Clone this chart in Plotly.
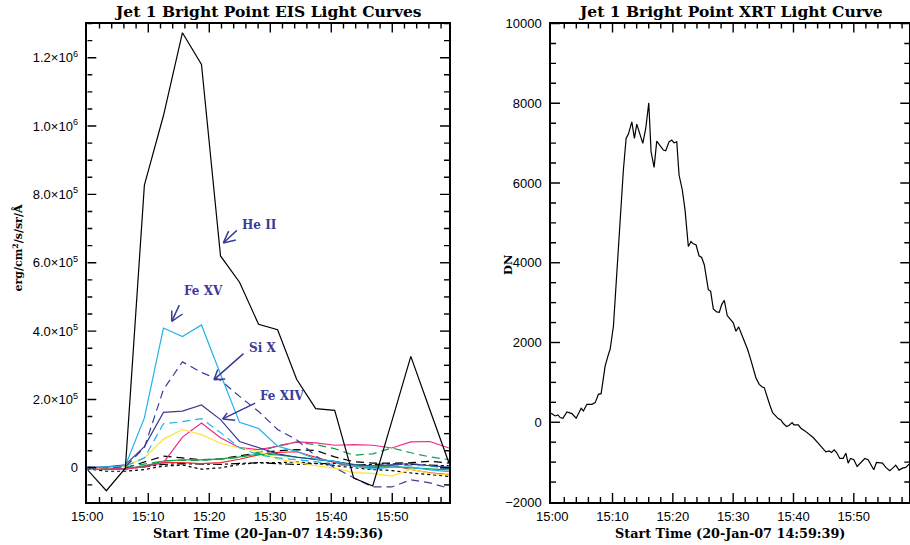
import plotly.graph_objects as go

# ---------------- data ----------------
# EIS sample times, minutes after 15:00 tick origin
eis_time = [0.0, 3.12, 6.24, 9.36, 12.48, 15.6, 18.72, 21.84, 24.96, 28.08,
            31.2, 34.32, 37.44, 40.56, 43.68, 46.8, 49.92, 53.04, 56.16, 59.28]

he_ii = [-5e3, -6.7e4, -1e3, 8.27e5, 1.03e6, 1.273e6, 1.18e6, 6.2e5, 5.43e5, 4.2e5,
         4.04e5, 2.59e5, 1.73e5, 1.68e5, -3.0e4, -5.3e4, 1.36e5, 3.26e5, 1.7e5, 1.5e4]
fe_xv = [-1e3, 3e3, 6e3, 1.46e5, 4.09e5, 3.84e5, 4.18e5, 2.74e5, 1.33e5, 1.15e5,
         6.3e4, 4.8e4, 2.6e4, 1.9e4, 6e3, -4e3, 2e3, 2e3, -6e3, -1.1e4]
si_x = [2e3, 0, 3e3, 5.9e4, 2.29e5, 3.1e5, 2.79e5, 2.56e5, 2.09e5, 1.65e5,
        1.12e5, 8.2e4, 3.5e4, 0, -2.9e4, -5.6e4, -5.6e4, -3.5e4, -4.4e4, -6e4]
fe_xiv = [2e3, 3e3, 9e3, 6.2e4, 1.62e5, 1.66e5, 1.84e5, 1.41e5, 7.7e4, 5.8e4,
          4.1e4, 3.1e4, 2.4e4, 1.9e4, 9e3, 6e3, 9e3, 1.2e4, 6e3, 2e3]
cyan_dash = [0, 2e3, 5e3, 2.9e4, 1.29e5, 1.35e5, 1.44e5, 1.03e5, 5.9e4, 3.8e4,
             2.9e4, 2.4e4, 1.8e4, 9e3, 6e3, 3e3, 9e3, 6e3, 6e3, -3e3]
yellow = [0, 0, 4e3, 2.9e4, 8.4e4, 1.12e5, 9.7e4, 7.2e4, 5.8e4, 4.8e4,
          2.6e4, 1.6e4, 6e3, -1e3, -1.4e4, -1.6e4, -2.4e4, -4e3, -1.6e4, -2.1e4]
magenta = [0, -3e3, -3e3, 3e3, 1.5e4, 9e4, 1.31e5, 8.8e4, 5.9e4, 5.3e4,
           6.3e4, 7.6e4, 7.3e4, 6.6e4, 6.8e4, 6.6e4, 5.8e4, 7.6e4, 7.7e4, 5.8e4]
green_dash = [0, -2e3, 2e3, 1e4, 2e4, 2.2e4, 2.2e4, 2.5e4, 3e4, 4.5e4,
              6.5e4, 7.5e4, 6.8e4, 5.6e4, 3.7e4, 4.1e4, 5.8e4, 4.4e4, 3.2e4, 2.4e4]
green_solid = [-3e3, -5e3, -3e3, 5e3, 2e4, 2.3e4, 2.3e4, 2.6e4, 3.2e4, 4e4,
               3.8e4, 3.2e4, 2.5e4, 1.8e4, 1e4, 3e3, 3e3, 0, -4e3, -6e3]
red = [2e3, -3e3, -3e3, 5e3, 1.5e4, 1.5e4, 1.2e4, 1.5e4, 2.5e4, 3.8e4,
       4.5e4, 4.7e4, 3e4, 1.5e4, 5e3, 0, 8e3, -5e3, -1.5e4, -2e4]
black_dash = [0, -3e3, 0, 1.8e4, 3.4e4, 2.9e4, 2.4e4, 2.6e4, 3.5e4, 4.4e4,
              5e4, 5.3e4, 5.1e4, 3.2e4, 1.8e4, 1.4e4, 1.4e4, 1.5e4, 1.9e4, 1.4e4]
black_dot = [-3e3, -1e4, -1e4, -5e3, 5e3, 8e3, -4e3, 0, 1e4, 1.5e4,
             1.5e4, 1.7e4, 1.3e4, 6e3, 0, -5e3, -8e3, -1.5e4, -2e4, -2.5e4]
black_dashdot = [0, -2e3, -3e3, 3e3, 1e4, 1.2e4, 1e4, 1e4, 1.3e4, 1.5e4,
                 1.2e4, 1e4, 1.2e4, 1.3e4, 8e3, 1e4, 1.2e4, 1e4, 8e3, 6e3]

# XRT light curve, minutes after 15:00 tick origin
xrt_time = [-0.17, 0.50, 0.94, 1.32, 1.77, 2.43, 3.26, 3.97, 4.80, 5.18,
            5.75, 6.57, 7.12, 7.67, 8.11, 8.77, 9.32, 9.60, 10.15, 10.71,
            11.26, 11.80, 12.25, 12.63, 13.20, 13.63, 14.02, 14.57, 15.02, 15.51,
            16.01, 16.39, 16.89, 17.33, 17.88, 18.43, 18.82, 19.37, 19.82, 20.20,
            20.65, 21.03, 21.57, 22.02, 22.57, 23.01, 23.39, 23.84, 24.34, 24.78,
            25.21, 25.61, 25.88, 26.27, 26.71, 27.27, 27.70, 28.10, 28.53, 29.02,
            29.47, 30.02, 30.46, 30.91, 31.41, 31.95, 32.40, 32.90, 33.33, 33.77,
            34.32, 34.82, 35.15, 35.64, 36.09, 36.54, 37.09, 37.47, 37.91, 38.29,
            38.86, 39.29, 39.78, 40.07, 40.78, 41.23, 41.89, 42.43, 43.26, 44.09,
            44.65, 45.36, 45.91, 46.31, 46.74, 47.14, 47.68, 48.23, 48.68, 49.06,
            49.45, 50.00, 50.55, 51.11, 51.82, 52.37, 52.93, 53.31, 53.76, 54.30,
            54.75, 55.30, 55.96, 56.41, 56.95, 57.50, 58.06, 58.61, 59.16]
xrt_dn = [225, 158, 183, 117, 100, 258, 217, 100, 350, 283,
          450, 450, 492, 700, 717, 1408, 1700, 1825, 2408, 3700,
          5242, 6325, 7117, 7225, 7533, 7117, 7475, 7200, 6992, 7367,
          8008, 6783, 6392, 7050, 6950, 6825, 6808, 7033, 7075, 7008,
          7033, 6200, 5825, 5325, 4408, 4533, 4475, 4450, 4175, 4133,
          3950, 3492, 3325, 3283, 2842, 2767, 2758, 2950, 3058, 2675,
          2592, 2492, 2283, 2392, 2200, 1992, 1825, 1575, 1367, 1117,
          950, 883, 867, 617, 425, 242, 142, 92, 58, -25,
          -108, -75, -8, -67, -67, -150, -217, -275, -383, -525,
          -633, -742, -717, -758, -692, -758, -908, -908, -775, -1025,
          -908, -942, -1108, -1025, -908, -942, -1092, -1192, -1008, -1025,
          -1025, -1133, -1217, -1158, -1075, -1200, -1150, -1133, -1050]

time_ticks = [0, 10, 20, 30, 40, 50]
time_labels = ["15:00", "15:10", "15:20", "15:30", "15:40", "15:50"]
time_minor = [m for m in range(2, 60, 2) if m % 10]
eis_yticks = [0, 2e5, 4e5, 6e5, 8e5, 1.0e6, 1.2e6]
eis_ylabels = ["0", "2.0×10<sup>5</sup>", "4.0×10<sup>5</sup>", "6.0×10<sup>5</sup>",
               "8.0×10<sup>5</sup>", "1.0×10<sup>6</sup>", "1.2×10<sup>6</sup>"]
eis_yminor = [k * 5e4 for k in range(-1, 27) if k % 4]
xrt_yticks = [-2000, 0, 2000, 4000, 6000, 8000, 10000]
xrt_ylabels = ["−2000", "0", "2000", "4000", "6000", "8000", "10000"]
xrt_yminor = [k * 500 for k in range(-3, 20) if k % 4]

# ---------------- styles ----------------
NAVY = "#3b3b99"
CYAN = "#1fb2e8"
series = [
    (black_dot, "black", "dot"),
    (black_dashdot, "black", "dashdot"),
    (black_dash, "black", "8px,5px"),
    (red, "#ee2a2a", "solid"),
    (green_solid, "#10a050", "solid"),
    (green_dash, "#10a050", "8px,5px"),
    (magenta, "#ee2a8c", "solid"),
    (yellow, "#ffe135", "solid"),
    (cyan_dash, CYAN, "8px,5px"),
    (fe_xiv, NAVY, "solid"),
    (si_x, NAVY, "8px,5px"),
    (fe_xv, CYAN, "solid"),
    (he_ii, "black", "solid"),
]

W, H = 910, 545
ytop, ybot = 23.5, 502.0
ydom = [1 - ybot / H, 1 - ytop / H]
xdom1 = [87.3 / W, 449 / W]
xdom2 = [551 / W, 909.3 / W]
xr1, yr1 = [0, 59.3], [-1.0e5, 1.3e6]
xr2, yr2 = [-0.2, 59.2], [-2000, 10000]

fig = go.Figure()
for vals, col, dash in series:
    fig.add_trace(go.Scatter(x=eis_time, y=vals, mode="lines", showlegend=False,
                             line=dict(color=col, width=1.2, dash=dash),
                             xaxis="x", yaxis="y", hoverinfo="skip"))
fig.add_trace(go.Scatter(x=xrt_time, y=xrt_dn, mode="lines", showlegend=False,
                         line=dict(color="black", width=1.2),
                         xaxis="x2", yaxis="y2", hoverinfo="skip"))

# inside tick marks on all four sides, drawn through each panel's scales
def tick_trace(xax, yax, xr, yr, xdom, xt_major, xt_minor, yt_major, yt_minor):
    wpx = (xdom[1] - xdom[0]) * W
    hpx = (ydom[1] - ydom[0]) * H
    ux = (xr[1] - xr[0]) / wpx   # data units per pixel, x
    uy = (yr[1] - yr[0]) / hpx   # data units per pixel, y
    xs, ys = [], []
    for vals, ln in ((xt_major, 9), (xt_minor, 5)):
        for v in vals:
            xs += [v, v, None, v, v, None]
            ys += [yr[0], yr[0] + ln * uy, None, yr[1], yr[1] - ln * uy, None]
    for vals, ln in ((yt_major, 9), (yt_minor, 5)):
        for v in vals:
            xs += [xr[0], xr[0] + ln * ux, None, xr[1], xr[1] - ln * ux, None]
            ys += [v, v, None, v, v, None]
    fig.add_trace(go.Scatter(x=xs, y=ys, mode="lines", showlegend=False,
                             line=dict(color="black", width=1.4),
                             xaxis=xax, yaxis=yax, hoverinfo="skip"))

tick_trace("x", "y", xr1, yr1, xdom1, time_ticks[1:], time_minor, eis_yticks, eis_yminor)
tick_trace("x2", "y2", xr2, yr2, xdom2, time_ticks[1:], time_minor, xrt_yticks[1:], xrt_yminor)

tickfont = dict(family="Liberation Sans", size=13, color="black")
axstyle = dict(showline=True, linecolor="black", linewidth=1.5, mirror=True,
               ticks="", showgrid=False, zeroline=False, tickfont=tickfont,
               automargin=False, tickmode="array")

fig.update_layout(
    width=W, height=H, margin=dict(l=0, r=0, t=0, b=0, pad=0), autosize=False,
    paper_bgcolor="white", plot_bgcolor="white", showlegend=False,
    xaxis=dict(domain=xdom1, range=xr1, anchor="y",
               tickvals=time_ticks, ticktext=time_labels, ticklabelstandoff=2, **axstyle),
    yaxis=dict(domain=ydom, range=yr1, anchor="x",
               tickvals=eis_yticks, ticktext=eis_ylabels, ticklabelstandoff=5, **axstyle),
    xaxis2=dict(domain=xdom2, range=xr2, anchor="y2",
                tickvals=time_ticks, ticktext=time_labels, ticklabelstandoff=2, **axstyle),
    yaxis2=dict(domain=ydom, range=yr2, anchor="x2",
                tickvals=xrt_yticks, ticktext=xrt_ylabels, ticklabelstandoff=5, **axstyle),
)

serif = "DejaVu Serif"
def ptext(text, px, py, size, angle=0, color="black", weight="bold"):
    fig.add_annotation(text=text, xref="paper", yref="paper", x=px / W, y=1 - py / H,
                       xanchor="center", yanchor="middle", showarrow=False, textangle=angle,
                       font=dict(family=serif, size=size, color=color, weight=weight))

ptext("Jet 1 Bright Point EIS Light Curves", 268, 11.5, 15.5)
ptext("Jet 1 Bright Point XRT Light Curve", 730, 11.5, 15.5)
ptext("Start Time (20-Jan-07 14:59:36)", 268, 533, 12.8)
ptext("Start Time (20-Jan-07 14:59:39)", 730, 533, 12.8)
ptext("erg/cm<sup>2</sup>/s/sr/Å", 17.5, 248, 11, angle=-90)
ptext("DN", 508, 265, 11.5, angle=-90)

# line labels with open-V arrows (head position in data coords, offsets in pixels)
labels = [
    ("He II", 28.15, 7.11e5, 22.3, 6.58e5, (15, -14), (6, -13.3), (14, -3.3)),
    ("Fe XV", 18.97, 5.18e5, 13.84, 4.285e5, (8.3, -17.7), (0, -12.4), (12.3, -8.4)),
    ("Si X", 28.8, 3.52e5, 20.77, 2.58e5, (31, -27.3), (4.3, -11.7), (12.7, -0.7)),
    ("Fe XIV", 32.08, 2.11e5, 22.2, 1.43e5, (34, -16.6), (5.6, -7.6), (14, 1.4)),
]
for text, tx, ty, hx, hy, tail, b1, b2 in labels:
    fig.add_annotation(text=text, x=tx, y=ty, xref="x", yref="y", showarrow=False,
                       xanchor="center", yanchor="middle",
                       font=dict(family=serif, size=12, color=NAVY, weight="bold"))
    for off in (tail, b1, b2):
        fig.add_annotation(text="", x=hx, y=hy, xref="x", yref="y", showarrow=True,
                           arrowhead=0, arrowwidth=1.5, arrowcolor=NAVY,
                           ax=off[0], ay=off[1], standoff=0, startstandoff=0)

fig.write_html("out.html")
